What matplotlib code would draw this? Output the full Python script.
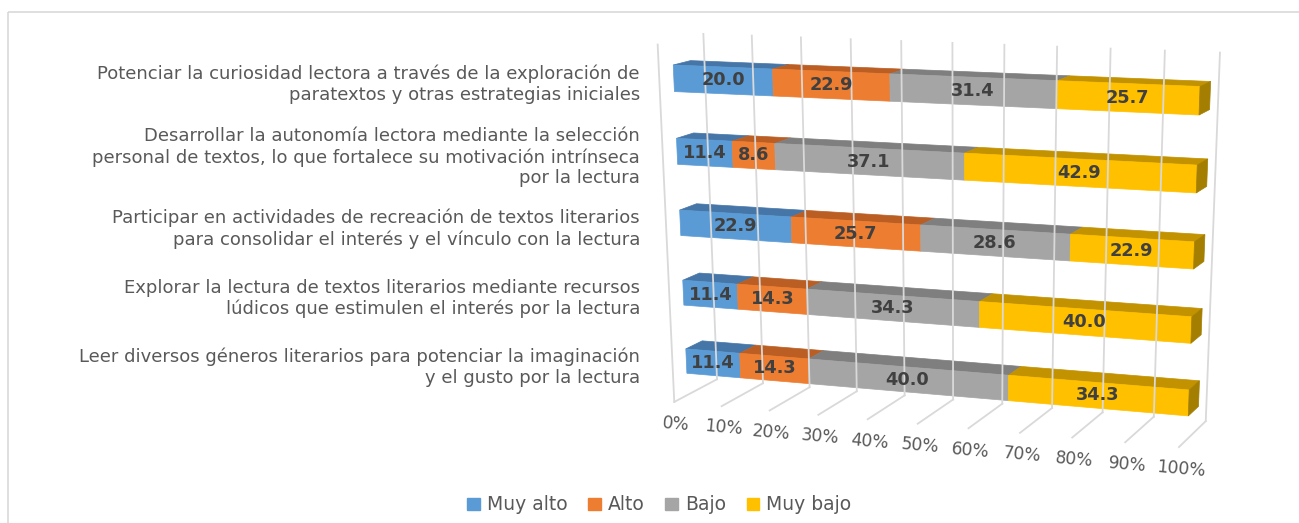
import numpy as np
import matplotlib
matplotlib.use("Agg")
import matplotlib.pyplot as plt
from matplotlib.patches import Polygon, Patch, Rectangle

# data (top category first)
categories = [
    "Potenciar la curiosidad lectora a través de la exploración de\nparatextos y otras estrategias iniciales",
    "Desarrollar la autonomía lectora mediante la selección\npersonal de textos, lo que fortalece su motivación intrínseca\npor la lectura",
    "Participar en actividades de recreación de textos literarios\npara consolidar el interés y el vínculo con la lectura",
    "Explorar la lectura de textos literarios mediante recursos\nlúdicos que estimulen el interés por la lectura",
    "Leer diversos géneros literarios para potenciar la imaginación\ny el gusto por la lectura",
]
series = ["Muy alto", "Alto", "Bajo", "Muy bajo"]
muy_alto = [20.0, 11.4, 22.9, 11.4, 11.4]
alto = [22.9, 8.6, 25.7, 14.3, 14.3]
bajo = [31.4, 37.1, 28.6, 34.3, 40.0]
muy_bajo = [25.7, 42.9, 22.9, 40.0, 34.3]
ticks = [0, 10, 20, 30, 40, 50, 60, 70, 80, 90, 100]

face_colors = ["#5B9BD5", "#ED7D31", "#A5A5A5", "#FFC000"]
top_colors = ["#4676A8", "#BA5E24", "#7F7F7F", "#C29200"]
end_color = "#A37E00"
grid_color = "#D9D9D9"
text_gray = "#595959"

# perspective camera fitted to the frame corners of the plot box
# world coords: value fraction (0..1), depth (0 front .. 1 back), height (0..1)
frame_world = np.array([
    [0, 1, 0], [1, 1, 0], [0, 1, 1], [1, 1, 1],
    [0, 0, 0], [1, 0, 0], [0, 0, 1],
    [0.4, 0, 0], [0.4, 1, 0], [0.6, 0, 0], [0.6, 1, 0],
], dtype=float)
frame_px = np.array([
    [717, 378], [1207, 420], [703, 35], [1220, 53],
    [675, 403], [1178, 447], [658, 43],
    [868, 420], [903, 395], [968, 428], [1003, 405],
], dtype=float)

rows = []
for (X, Y, Z), (u, v) in zip(frame_world, frame_px):
    rows.append([X, Y, Z, 1, 0, 0, 0, 0, -u * X, -u * Y, -u * Z, -u])
    rows.append([0, 0, 0, 0, X, Y, Z, 1, -v * X, -v * Y, -v * Z, -v])
_, _, vt = np.linalg.svd(np.array(rows))
P = vt[-1].reshape(3, 4)


def proj(x, d, h):
    p = P @ np.array([x / 100.0, d, h, 1.0])
    return p[0] / p[2], p[1] / p[2]


fig = plt.figure(figsize=(12.99, 5.23), dpi=100)
ax = fig.add_axes([0, 0, 1, 1])
ax.set_xlim(0, 1299)
ax.set_ylim(523, 0)
ax.axis("off")

# chart border
ax.add_patch(Rectangle((8, 12), 1400, 600, fill=False, ec="#D9D9D9", lw=1.2))

# back wall and floor gridlines
for t in ticks:
    xs, ys = zip(proj(t, 1, 0), proj(t, 1, 1))
    ax.plot(xs, ys, color=grid_color, lw=1.3)
    xs, ys = zip(proj(t, 0, 0), proj(t, 1, 0))
    ax.plot(xs, ys, color=grid_color, lw=1.3)
xs, ys = zip(proj(0, 0, 0), proj(0, 0, 1))
ax.plot(xs, ys, color=grid_color, lw=1.3)

# bars
n = len(categories)
d0, d1 = 0.31, 0.69
thick = 0.072
values = np.array([muy_alto, alto, bajo, muy_bajo]).T
for i in range(n):
    hc = (n - 1 - i + 0.5) / n
    h0, h1 = hc - thick / 2, hc + thick / 2
    left = 0.0
    for j, v in enumerate(values[i]):
        right = min(left + v, 100.0)
        front = [proj(left, d0, h0), proj(right, d0, h0), proj(right, d0, h1), proj(left, d0, h1)]
        top = [proj(left, d0, h1), proj(right, d0, h1), proj(right, d1, h1), proj(left, d1, h1)]
        ax.add_patch(Polygon(top, closed=True, fc=top_colors[j], ec=top_colors[j], lw=0.5))
        ax.add_patch(Polygon(front, closed=True, fc=face_colors[j], ec=face_colors[j], lw=0.5))
        cx, cy = proj((left + right) / 2, d0, hc)
        ax.text(cx, cy, f"{v:.1f}", ha="center", va="center", fontsize=12.8,
                fontweight="bold", color="#404040")
        left = right
    end = [proj(100, d0, h0), proj(100, d1, h0), proj(100, d1, h1), proj(100, d0, h1)]
    ax.add_patch(Polygon(end, closed=True, fc=end_color, ec=end_color, lw=0.5))

    lx, ly = proj(0, d0, hc)
    ax.text(640, ly + 6, categories[i], ha="right", va="center", fontsize=13,
            color=text_gray, linespacing=1.2)

# value axis labels
for t in ticks:
    tx, ty = proj(t, 0, 0)
    ax.text(tx + 2, ty + 22, f"{t}%", ha="center", va="center", fontsize=12.3,
            color=text_gray, rotation=-5)

handles = [Patch(fc=c, ec=c) for c in face_colors]
leg = fig.legend(handles, series, loc="center", bbox_to_anchor=(0.5 + 10 / 1299, 1 - 505 / 523),
                 ncol=4, frameon=False, fontsize=13.5, handlelength=0.65, handleheight=0.65,
                 handletextpad=0.4, columnspacing=1.1)
for txt in leg.get_texts():
    txt.set_color(text_gray)

fig.savefig("out.png", dpi=100)
